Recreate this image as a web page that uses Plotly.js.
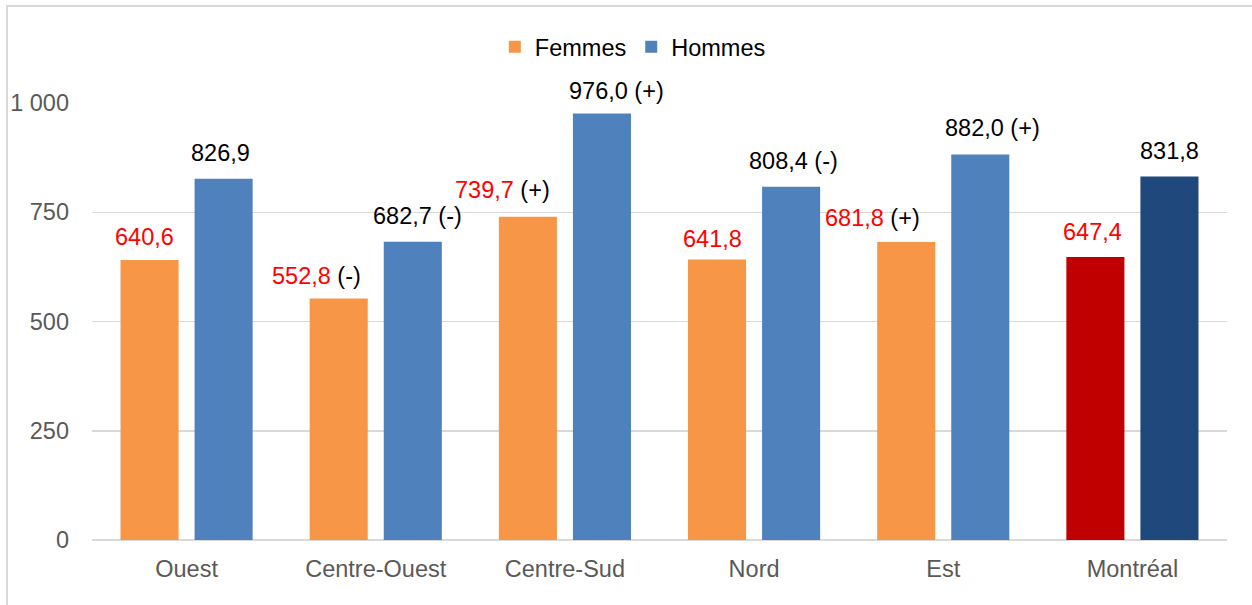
<!DOCTYPE html>
<html>
<head>
<meta charset="utf-8">
<script src="https://cdn.plot.ly/plotly-3.0.1.min.js"></script>
<style>
  html, body { margin: 0; padding: 0; background: #fff; overflow: hidden; }
  #chart { width: 1252px; height: 605px; }
  #frame { position: absolute; left: 6px; top: 5px; width: 3000px; height: 3000px;
           border-left: 2px solid #d9d9d9; border-top: 2px solid #d9d9d9; pointer-events: none; }
</style>
</head>
<body>
<div id="chart"></div>
<div id="frame"></div>
<script>
// ---- data ----
const categories = ['Ouest', 'Centre-Ouest', 'Centre-Sud', 'Nord', 'Est', 'Montréal'];
const femmes = [640.6, 552.8, 739.7, 641.8, 681.8, 647.4];
const hommes = [826.9, 682.7, 976.0, 808.4, 882.0, 831.8];
const femmesSig = ['', '(-)', '(+)', '', '(+)', ''];
const hommesSig = ['', '(-)', '(+)', '(-)', '(+)', ''];
const yTickVals = [0, 250, 500, 750, 1000];
const yTickText = ['0', '250', '500', '750', '1 000'];

// ---- styles ----
const femmesColors = categories.map(c => c === 'Montréal' ? '#C00000' : '#F79646');
const hommesColors = categories.map(c => c === 'Montréal' ? '#1F497D' : '#4F81BD');
const femmesNudgeX = [-5, -22, -25, -5, -34, -3];
const hommesNudgeX = [-3, 5, 15, 2, 12, 0];
const femmesNudgeY = [23, 22, 27, 21, 24, 25];
const hommesNudgeY = [26, 26, 22, 26, 27, 26];
const barOffsetPx = 37;
const FONT = 'Liberation Sans, Arial, sans-serif';
const FS = 23.5;

const fmt = v => v.toFixed(1).replace('.', ',');

const traces = [
  { type: 'bar', name: 'Femmes', x: categories, y: femmes,
    marker: { color: femmesColors }, hoverinfo: 'skip' },
  { type: 'bar', name: 'Hommes', x: categories, y: hommes,
    marker: { color: hommesColors }, hoverinfo: 'skip' }
];

const annotations = [];
categories.forEach((c, i) => {
  annotations.push({
    x: c, y: femmes[i], xref: 'x', yref: 'y',
    text: '<span style="color:#FF0000">' + fmt(femmes[i]) + '</span>' + (femmesSig[i] ? ' ' + femmesSig[i] : ''),
    showarrow: false, xanchor: 'center', yanchor: 'middle',
    xshift: -barOffsetPx + femmesNudgeX[i], yshift: femmesNudgeY[i],
    font: { family: FONT, size: FS, color: '#000000' }
  });
  annotations.push({
    x: c, y: hommes[i], xref: 'x', yref: 'y',
    text: fmt(hommes[i]) + (hommesSig[i] ? ' ' + hommesSig[i] : ''),
    showarrow: false, xanchor: 'center', yanchor: 'middle',
    xshift: barOffsetPx + hommesNudgeX[i], yshift: hommesNudgeY[i],
    font: { family: FONT, size: FS, color: '#000000' }
  });
});

const layout = {
  width: 1252, height: 605,
  margin: { l: 92, r: 25, t: 103, b: 65, pad: 0 },
  paper_bgcolor: '#ffffff', plot_bgcolor: '#ffffff',
  font: { family: FONT, size: FS, color: '#595959' },
  barmode: 'group', bargap: 0.217, bargroupgap: 0.216,
  showlegend: true,
  legend: { orientation: 'h', x: 0.4765, xanchor: 'center', y: 1.128, yanchor: 'middle',
            font: { family: FONT, size: FS, color: '#000000' }, itemwidth: 30 },
  xaxis: { type: 'category', showgrid: false, zeroline: false, showline: false,
           ticks: '', ticklabelstandoff: 12, tickfont: { family: FONT, size: FS, color: '#595959' } },
  yaxis: { range: [0, 1000], tickvals: yTickVals, ticktext: yTickText,
           showgrid: true, gridcolor: '#D9D9D9', gridwidth: 1.5, zeroline: true,
           zerolinecolor: '#D9D9D9', zerolinewidth: 1.5, showline: false, ticks: '',
           ticklabelstandoff: 22, tickfont: { family: FONT, size: FS, color: '#595959' } },
  annotations: annotations
};

Plotly.newPlot('chart', traces, layout, { staticPlot: true, displayModeBar: false });
</script>
</body>
</html>
